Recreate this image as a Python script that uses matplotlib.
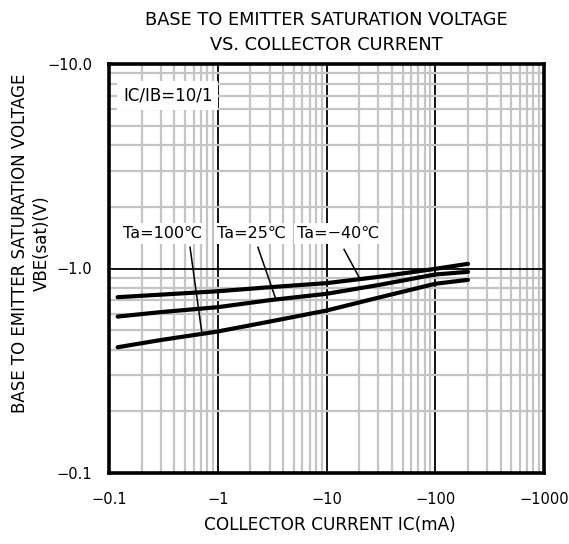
import matplotlib.pyplot as plt
from matplotlib.ticker import FixedLocator, LogLocator, NullFormatter

plt.rcParams['font.family'] = ['DejaVu Sans', 'Noto Sans CJK JP']

# collector current (mA, magnitude) and VBE(sat) (V, magnitude)
ic = [0.12, 0.3, 1, 3, 10, 30, 100, 200]
vbe_m40 = [0.724, 0.745, 0.774, 0.81, 0.848, 0.91, 0.996, 1.054]
vbe_25 = [0.582, 0.612, 0.647, 0.70, 0.752, 0.83, 0.935, 0.963]
vbe_100 = [0.412, 0.447, 0.492, 0.55, 0.623, 0.72, 0.842, 0.88]

xticks = [0.1, 1, 10, 100, 1000]
xlabels = ['\u22120.1', '\u22121', '\u221210', '\u2212100', '\u22121000']
yticks = [0.1, 1, 10]
ylabels = ['\u22120.1', '\u22121.0', '\u221210.0']

fig = plt.figure(figsize=(5.69, 5.44), dpi=100)
ax = fig.add_axes([109 / 569, 71 / 544, 435 / 569, 409 / 544])

ax.set_xscale('log')
ax.set_yscale('log')
ax.set_xlim(0.1, 1000)
ax.set_ylim(0.1, 10)

ax.xaxis.set_major_locator(FixedLocator(xticks))
ax.yaxis.set_major_locator(FixedLocator(yticks))
ax.xaxis.set_minor_locator(LogLocator(base=10, subs=range(2, 10), numticks=20))
ax.yaxis.set_minor_locator(LogLocator(base=10, subs=range(2, 10), numticks=20))
ax.xaxis.set_minor_formatter(NullFormatter())
ax.yaxis.set_minor_formatter(NullFormatter())
ax.set_xticklabels(xlabels)
ax.set_yticklabels(ylabels)
ax.tick_params(which='both', length=0, labelsize=10.5)
ax.tick_params(axis='x', pad=14)
ax.tick_params(axis='y', pad=12)

ax.grid(which='minor', color='#c4c4c4', linewidth=1.6)
ax.grid(which='major', color='black', linewidth=1.3)
ax.set_axisbelow(True)
for s in ax.spines.values():
    s.set_linewidth(2.6)

for v in (vbe_m40, vbe_25, vbe_100):
    ax.plot(ic, v, color='black', linewidth=3, solid_capstyle='round', zorder=3)

box = dict(facecolor='white', edgecolor='none', pad=2)
labels = ['Ta=100\u2103', 'Ta=25\u2103', 'Ta=\u221240\u2103']
label_pos = [(0.31, 1.48), (2.05, 1.48), (12.8, 1.48)]
leader_start = [(0.556, 1.27), (2.34, 1.27), (14.5, 1.24)]
leader_end = [(0.716, 0.48), (3.43, 0.705), (20.3, 0.89)]
for t, p, s, e in zip(labels, label_pos, leader_start, leader_end):
    ax.plot([s[0], e[0]], [s[1], e[1]], color='black', linewidth=1.1, zorder=3)
    ax.text(p[0], p[1], t, ha='center', va='center', fontsize=11.5, bbox=box, zorder=4)

ax.text(0.135, 0.922, 'IC/IB=10/1', transform=ax.transAxes, ha='center', va='center',
        fontsize=12, bbox=dict(facecolor='white', edgecolor='none', pad=4), zorder=4)

fig.text(326 / 569, 1 - 20 / 544, 'BASE TO EMITTER SATURATION VOLTAGE', ha='center', va='center', fontsize=12.8)
fig.text(326 / 569, 1 - 45 / 544, 'VS. COLLECTOR CURRENT', ha='center', va='center', fontsize=12.8)
fig.text(20 / 569, 1 - 243 / 544, 'BASE TO EMITTER SATURATION VOLTAGE', rotation=90, ha='center', va='center', fontsize=12)
fig.text(42 / 569, 1 - 243 / 544, 'VBE(sat)(V)', rotation=90, ha='center', va='center', fontsize=12)
fig.text(330 / 569, 1 - 525 / 544, 'COLLECTOR CURRENT IC(mA)', ha='center', va='center', fontsize=12.2)

fig.savefig('out.png', dpi=100)
